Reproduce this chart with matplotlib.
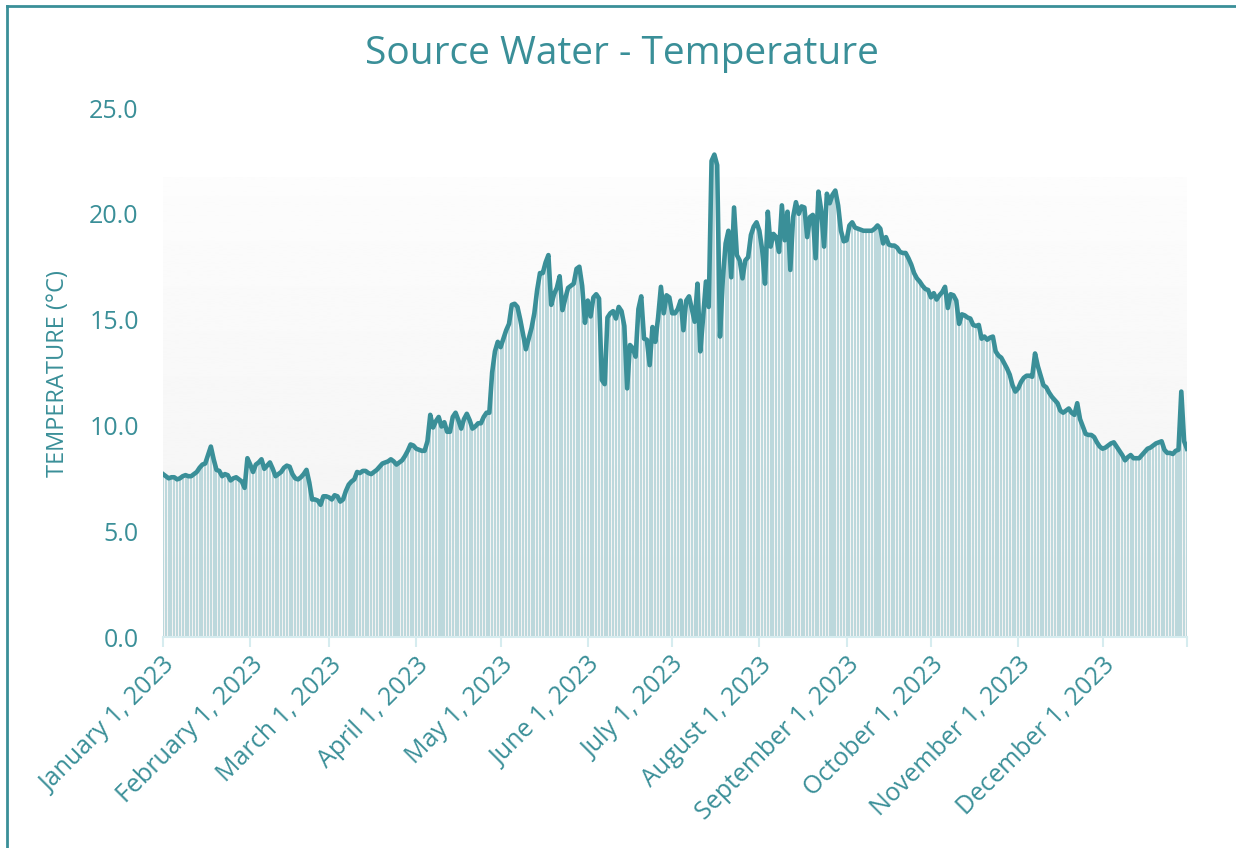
import numpy as np
import pandas as pd
import matplotlib
matplotlib.use('Agg')
from matplotlib import pyplot as plt
import matplotlib.dates as mdates
import matplotlib.transforms as mtransforms
from matplotlib.lines import Line2D

# daily source water temperature, 2023 (degC), one row per month
jan = [7.7, 7.6, 7.5, 7.55, 7.55, 7.45, 7.5, 7.6, 7.65, 7.6, 7.6, 7.7, 7.8, 8.0, 8.15, 8.2,
       8.6, 9.0, 8.4, 7.9, 7.85, 7.6, 7.7, 7.65, 7.4, 7.5, 7.55, 7.45, 7.35, 7.05, 8.45]
feb = [8.15, 7.8, 8.15, 8.25, 8.4, 7.95, 8.1, 8.25, 7.95, 7.6, 7.7, 7.8, 8.0, 8.1, 8.05,
       7.7, 7.5, 7.45, 7.55, 7.7, 7.9, 7.3, 6.5, 6.5, 6.45, 6.25, 6.65, 6.65]
mar = [6.6, 6.5, 6.7, 6.65, 6.4, 6.5, 6.9, 7.2, 7.35, 7.45, 7.8, 7.75, 7.85, 7.85, 7.75, 7.7,
       7.8, 7.9, 8.05, 8.2, 8.25, 8.3, 8.4, 8.3, 8.15, 8.25, 8.35, 8.55, 8.8, 9.1, 9.05]
apr = [8.9, 8.85, 8.8, 8.8, 9.25, 10.5, 9.9, 10.2, 10.4, 9.95, 10.15, 9.7, 9.7, 10.4, 10.6,
       10.25, 9.85, 10.3, 10.55, 10.25, 9.85, 9.95, 10.1, 10.1, 10.4, 10.6, 10.6, 12.5, 13.5, 13.95]
may = [13.7, 14.1, 14.5, 14.8, 15.7, 15.75, 15.6, 15.0, 14.3, 13.6, 14.1, 14.6, 15.3, 16.4,
       17.2, 17.2, 17.7, 18.05, 15.7, 16.2, 16.5, 17.05, 15.45, 16.0, 16.5, 16.6, 16.7, 17.4,
       17.5, 16.6, 14.85]
jun = [15.9, 15.15, 16.05, 16.2, 16.0, 12.15, 11.95, 15.1, 15.3, 15.4, 15.05, 15.6, 15.4,
       14.7, 11.75, 13.8, 13.65, 13.25, 15.5, 16.1, 14.1, 14.05, 12.85, 14.65, 13.95, 15.1,
       16.55, 15.3, 16.15, 16.05]
jul = [15.3, 15.3, 15.5, 15.9, 14.5, 15.9, 16.1, 15.5, 14.9, 16.7, 13.5, 15.1, 16.8, 15.6,
       22.5, 22.8, 22.3, 14.2, 16.9, 18.6, 19.2, 17.0, 20.3, 18.05, 17.8, 16.95, 17.8, 17.95,
       19.0, 19.4, 19.6]
aug = [19.2, 18.3, 16.7, 20.1, 18.45, 19.05, 18.9, 18.2, 20.4, 18.75, 20.1, 17.35, 19.85,
       20.55, 20.0, 20.35, 20.3, 18.9, 19.85, 19.95, 17.9, 21.05, 20.15, 18.45, 20.95, 20.5,
       20.9, 21.1, 20.4, 19.2, 18.7]
sep = [18.75, 19.45, 19.6, 19.35, 19.3, 19.25, 19.2, 19.2, 19.2, 19.2, 19.3, 19.45, 19.3,
       18.6, 18.9, 18.55, 18.5, 18.5, 18.4, 18.2, 18.15, 18.15, 17.9, 17.6, 17.2, 16.95, 16.8,
       16.6, 16.45, 16.4]
oct_ = [16.05, 16.25, 15.95, 16.15, 16.3, 16.55, 15.55, 16.2, 16.15, 15.9, 14.8, 15.25, 15.2,
        15.1, 15.05, 14.75, 14.7, 14.75, 14.1, 14.2, 14.05, 14.15, 14.2, 13.5, 13.3, 13.2,
        12.95, 12.7, 12.4, 11.9, 11.6]
nov = [11.75, 12.05, 12.25, 12.35, 12.35, 12.3, 13.4, 12.8, 12.35, 11.9, 11.8, 11.55, 11.35,
       11.2, 11.05, 10.7, 10.6, 10.7, 10.8, 10.6, 10.5, 11.05, 10.3, 9.95, 9.6, 9.55, 9.55,
       9.45, 9.2, 9.0]
dec = [8.9, 8.95, 9.05, 9.15, 9.2, 9.0, 8.8, 8.6, 8.35, 8.5, 8.6, 8.45, 8.45, 8.45, 8.6, 8.75,
       8.9, 8.95, 9.05, 9.15, 9.2, 9.25, 8.85, 8.7, 8.7, 8.65, 8.8, 8.85, 11.6, 9.25, 8.9]

temps = jan + feb + mar + apr + may + jun + jul + aug + sep + oct_ + nov + dec
dates = pd.date_range('2023-01-01', '2023-12-31', freq='D')
month_ticks = pd.date_range('2023-01-01', '2023-12-01', freq='MS')
month_labels = [d.strftime('%B') + ' 1, 2023' for d in month_ticks]
y_ticks = [0, 5, 10, 15, 20, 25]

teal = '#3a8f98'
bar_color = '#bcd8dc'

plt.rcParams['font.family'] = ['Open Sans', 'DejaVu Sans']

fig = plt.figure(figsize=(12.36, 8.48), dpi=100)
ax = fig.add_axes([0.1319, 0.2488, 0.8284, 0.6238])

x = mdates.date2num(dates)

# soft vertical gradient behind the data
grad = np.linspace(0.95, 0.99, 256).reshape(-1, 1)
ax.imshow(grad, cmap='gray', vmin=0, vmax=1, aspect='auto', origin='lower',
          extent=[x[0], x[-1] + 0.4, 0, 21.7], zorder=0)

ax.bar(x, temps, width=0.72, color=bar_color, linewidth=0, zorder=1)
ax.plot(x, temps, color=teal, linewidth=3.3, solid_joinstyle='round', zorder=2)

ax.set_xlim(x[0], x[-1])
ax.set_ylim(0, 25)
ax.set_yticks(y_ticks)
ax.set_yticklabels(['%.1f' % v for v in y_ticks])
ax.set_xticks(list(mdates.date2num(month_ticks)) + [x[-1]])
ax.set_xticklabels(month_labels + [''], rotation=45, ha='right', va='top',
                   rotation_mode='anchor')
shift = mtransforms.ScaledTranslation(-8 / 72, -4 / 72, fig.dpi_scale_trans)
for lab in ax.get_xticklabels():
    lab.set_transform(lab.get_transform() + shift)

for s in ['top', 'right', 'left']:
    ax.spines[s].set_visible(False)
ax.spines['bottom'].set_color('#d6ecef')
ax.spines['bottom'].set_linewidth(1.5)
ax.tick_params(axis='y', length=0, pad=17.5, labelsize=18, labelcolor=teal)
ax.tick_params(axis='x', length=7, width=1.5, color='#d6ecef', pad=4,
               labelsize=18, labelcolor=teal)
ax.set_facecolor('white')

fig.text(0.503, 0.936, 'Source Water - Temperature', ha='center', va='center',
         fontsize=28, color=teal)
fig.text(0.047, 0.559, 'TEMPERATURE (\u00b0C)', ha='center', va='center',
         rotation=90, fontsize=17, color=teal)

# frame lines along the left and top edges
fig.add_artist(Line2D([0.0057, 0.0057], [0, 0.993], transform=fig.transFigure,
                      color=teal, linewidth=2))
fig.add_artist(Line2D([0.0057, 1], [0.993, 0.993], transform=fig.transFigure,
                      color=teal, linewidth=2))

fig.savefig('out.png', dpi=100)
